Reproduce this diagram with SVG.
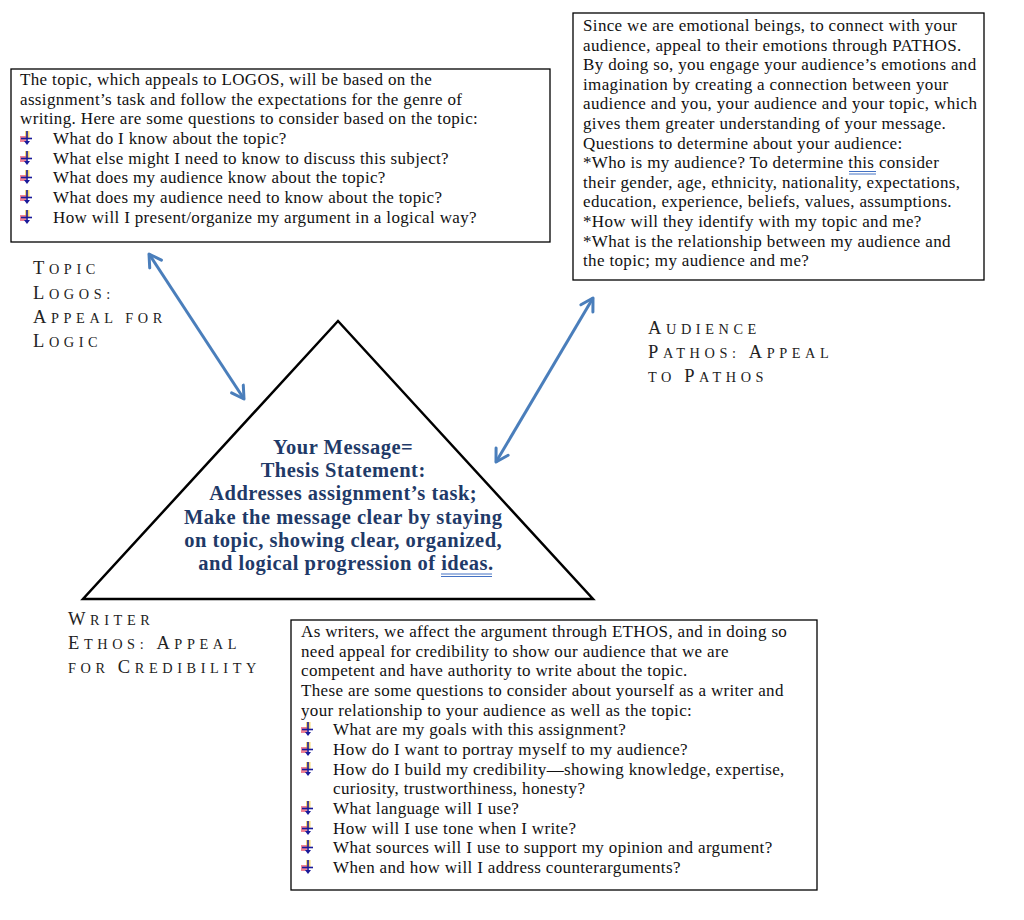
<svg xmlns="http://www.w3.org/2000/svg" width="1024" height="920" viewBox="0 0 1024 920">
<style>
.box{fill:#fff;stroke:#000;stroke-width:1.3}
.t{font-family:"Liberation Serif","Times New Roman",serif;font-size:17px;letter-spacing:0.35px;fill:#111}
.lab{font-family:"Liberation Serif","Times New Roman",serif;fill:#222;letter-spacing:4.6px}
.cap{font-size:18.5px}
.sc{font-size:14.3px}
.msg{font-family:"Liberation Serif","Times New Roman",serif;font-size:20.5px;letter-spacing:0.5px;font-weight:bold;fill:#1f3a68}
.arr{stroke:#4a7ebb;stroke-width:3;fill:none}
.ul{stroke:#4472c4;stroke-width:1}
</style>
<defs>
<marker id="ah" markerUnits="userSpaceOnUse" markerWidth="18" markerHeight="18" viewBox="0 0 18 18" refX="15" refY="9" orient="auto-start-reverse">
<path d="M3,2 L15,9 L3,16" fill="none" stroke="#4a7ebb" stroke-width="3" stroke-linecap="round" stroke-linejoin="round"/>
</marker>
<g id="bul">
<rect x="-2" y="-9" width="4.5" height="7" fill="#f6d365" opacity="0.9"/>
<rect x="-7" y="-4" width="6" height="6" fill="#e8506a" opacity="0.7"/>
<line x1="0" y1="-9" x2="0" y2="3" stroke="#1a1a9a" stroke-width="1.6"/>
<line x1="-6" y1="-1.5" x2="5" y2="-1.5" stroke="#1a1a9a" stroke-width="1.6"/>
<path d="M-3,1 L3,1 L0,5 Z" fill="#1a1a9a"/>
</g>
</defs>

<g id="logos-box">
<rect class="box" x="11" y="69" width="539" height="173"/>
<text class="t" x="20" y="85">The topic, which appeals to LOGOS, will be based on the</text>
<text class="t" x="20" y="105">assignment’s task and follow the expectations for the genre of</text>
<text class="t" x="20" y="124">writing. Here are some questions to consider based on the topic:</text>
<use href="#bul" x="27" y="140"/><text class="t" x="53" y="144">What do I know about the topic?</text>
<use href="#bul" x="27" y="160"/><text class="t" x="53" y="164">What else might I need to know to discuss this subject?</text>
<use href="#bul" x="27" y="179"/><text class="t" x="53" y="183">What does my audience know about the topic?</text>
<use href="#bul" x="27" y="199"/><text class="t" x="53" y="203">What does my audience need to know about the topic?</text>
<use href="#bul" x="27" y="219"/><text class="t" x="53" y="223">How will I present/organize my argument in a logical way?</text>
</g>

<g id="pathos-box">
<rect class="box" x="573" y="13" width="411" height="267"/>
<text class="t" x="583" y="31">Since we are emotional beings, to connect with your</text>
<text class="t" x="583" y="50.6">audience, appeal to their emotions through PATHOS.</text>
<text class="t" x="583" y="70.2">By doing so, you engage your audience’s emotions and</text>
<text class="t" x="583" y="89.8">imagination by creating a connection between your</text>
<text class="t" x="583" y="109.4">audience and you, your audience and your topic, which</text>
<text class="t" x="583" y="129">gives them greater understanding of your message.</text>
<text class="t" x="583" y="148.6">Questions to determine about your audience:</text>
<text class="t" x="583" y="168.2">*Who is my audience? To determine this consider</text>
<line class="ul" x1="849" y1="171.5" x2="876" y2="171.5"/>
<line class="ul" x1="849" y1="174" x2="876" y2="174"/>
<text class="t" x="583" y="187.8">their gender, age, ethnicity, nationality, expectations,</text>
<text class="t" x="583" y="207.4">education, experience, beliefs, values, assumptions.</text>
<text class="t" x="583" y="227">*How will they identify with my topic and me?</text>
<text class="t" x="583" y="246.6">*What is the relationship between my audience and</text>
<text class="t" x="583" y="266.2">the topic; my audience and me?</text>
</g>

<g id="ethos-box">
<rect class="box" x="291" y="620" width="526" height="270"/>
<text class="t" x="301" y="637">As writers, we affect the argument through ETHOS, and in doing so</text>
<text class="t" x="301" y="657">need appeal for credibility to show our audience that we are</text>
<text class="t" x="301" y="676">competent and have authority to write about the topic.</text>
<text class="t" x="301" y="696">These are some questions to consider about yourself as a writer and</text>
<text class="t" x="301" y="716">your relationship to your audience as well as the topic:</text>
<use href="#bul" x="308" y="731"/><text class="t" x="333" y="735">What are my goals with this assignment?</text>
<use href="#bul" x="308" y="751"/><text class="t" x="333" y="755">How do I want to portray myself to my audience?</text>
<use href="#bul" x="308" y="771"/><text class="t" x="333" y="775">How do I build my credibility—showing knowledge, expertise,</text>
<text class="t" x="333" y="794">curiosity, trustworthiness, honesty?</text>
<use href="#bul" x="308" y="810"/><text class="t" x="333" y="814">What language will I use?</text>
<use href="#bul" x="308" y="830"/><text class="t" x="333" y="834">How will I use tone when I write?</text>
<use href="#bul" x="308" y="849"/><text class="t" x="333" y="853">What sources will I use to support my opinion and argument?</text>
<use href="#bul" x="308" y="869"/><text class="t" x="333" y="873">When and how will I address counterarguments?</text>
</g>

<g id="message">
<polygon points="338,321 593,599 83,599" fill="#fff" stroke="#000" stroke-width="2.5" stroke-linejoin="miter"/>
<text class="msg" text-anchor="middle">
<tspan x="346" y="454">Your Message=</tspan>
<tspan x="346" y="477">Thesis Statement:</tspan>
<tspan x="346" y="500">Addresses assignment’s task;</tspan>
<tspan x="346" y="524">Make the message clear by staying</tspan>
<tspan x="346" y="547">on topic, showing clear, organized,</tspan>
<tspan x="346" y="570">and logical progression of ideas.</tspan>
</text>
<line class="ul" x1="441" y1="574" x2="492" y2="574"/>
<line class="ul" x1="441" y1="576.5" x2="492" y2="576.5"/>
</g>

<g id="label-topic">
<text class="lab" x="33" y="274"><tspan class="cap">T</tspan><tspan class="sc">OPIC</tspan></text>
<text class="lab" x="33" y="299"><tspan class="cap">L</tspan><tspan class="sc">OGOS:</tspan></text>
<text class="lab" x="33" y="323"><tspan class="cap">A</tspan><tspan class="sc">PPEAL FOR</tspan></text>
<text class="lab" x="33" y="347"><tspan class="cap">L</tspan><tspan class="sc">OGIC</tspan></text>
</g>

<g id="label-audience">
<text class="lab" x="648" y="334"><tspan class="cap">A</tspan><tspan class="sc">UDIENCE</tspan></text>
<text class="lab" x="648" y="358"><tspan class="cap">P</tspan><tspan class="sc">ATHOS: </tspan><tspan class="cap">A</tspan><tspan class="sc">PPEAL</tspan></text>
<text class="lab" x="648" y="382"><tspan class="sc">TO </tspan><tspan class="cap">P</tspan><tspan class="sc">ATHOS</tspan></text>
</g>

<g id="label-writer">
<text class="lab" x="68" y="625"><tspan class="cap">W</tspan><tspan class="sc">RITER</tspan></text>
<text class="lab" x="68" y="649"><tspan class="cap">E</tspan><tspan class="sc">THOS: </tspan><tspan class="cap">A</tspan><tspan class="sc">PPEAL</tspan></text>
<text class="lab" x="68" y="673"><tspan class="sc">FOR </tspan><tspan class="cap">C</tspan><tspan class="sc">REDIBILITY</tspan></text>
</g>

<g id="connectors">
<line class="arr" x1="149" y1="254" x2="244" y2="399" marker-start="url(#ah)" marker-end="url(#ah)"/>
<line class="arr" x1="593" y1="298" x2="496" y2="462" marker-start="url(#ah)" marker-end="url(#ah)"/>
</g>
</svg>
